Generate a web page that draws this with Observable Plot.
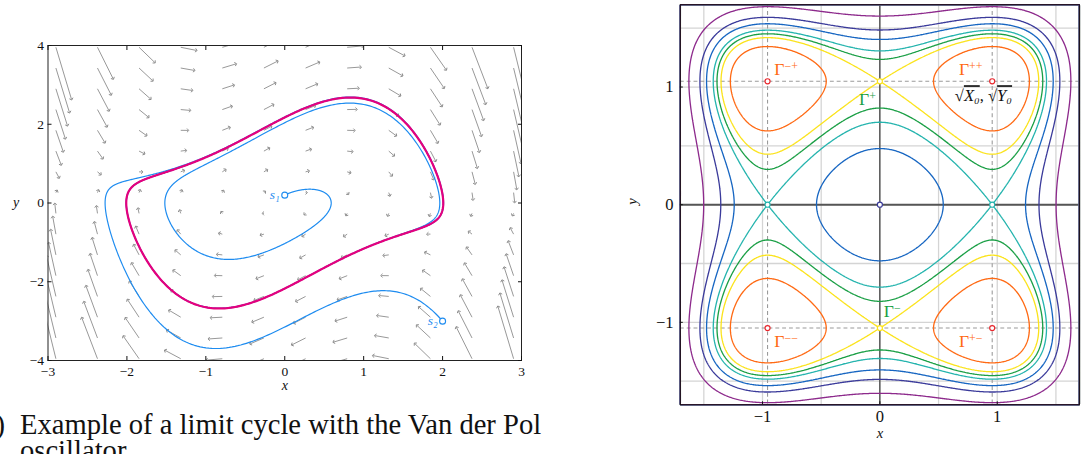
<!DOCTYPE html>
<html><head><meta charset="utf-8">
<script src="https://cdn.jsdelivr.net/npm/d3@7"></script>
<script src="https://cdn.jsdelivr.net/npm/@observablehq/plot@0.6"></script>
<style>
html,body{margin:0;padding:0;background:#fff;width:1087px;height:454px;overflow:hidden;position:relative;}
#left{position:absolute;left:0;top:0;}
#right{position:absolute;left:600px;top:0;}
#left svg [aria-label$="tick label"]{font-size:13.5px !important;}
#right svg [aria-label$="tick label"]{font-size:17px !important;}
#cap{position:absolute;left:20px;top:412px;font-family:"Liberation Serif","DejaVu Serif",serif;font-size:28.6px;line-height:26px;width:570px;color:#111;white-space:normal;}
#cap .n{position:absolute;right:calc(100% + 15px);top:0;white-space:nowrap;}
</style></head><body>
<div id="left"></div><div id="right"></div>
<div id="cap"><span class="n">(a)</span>Example of a limit cycle with the Van der Pol oscillator.</div>
<script>
// ---------- Left panel: Van der Pol oscillator ----------
const vdpMu = [1];
const fieldX = [-2.9, -2.373, -1.846, -1.318, -0.791, -0.264, 0.264, 0.791, 1.318, 1.846, 2.373, 2.9];
const fieldY = [-3.955, -3.428, -2.9, -2.373, -1.846, -1.318, -0.791, -0.264, 0.264, 0.791, 1.318, 1.846, 2.373, 2.9, 3.428, 3.955];
const arrowScale = [0.05];
const startNames = ["s₁", "s₂"];
const startX = [0, 2];
const startY = [0.2, -3];
const startDuration = [30, 30];
const cycleSeed = [2, 0];
const xTicksL = [-3, -2, -1, 0, 1, 2, 3];
const yTicksL = [-4, -2, 0, 2, 4];

// ---------- Right panel: contour levels ----------
const X0 = [0.916];
const Y0 = [1.1];
const levels = [0.5, 0.839, 1.02, 1.21, 1.6, 2.06, 3.0];
const levelColors = ["#ff6a14", "#fbe31c", "#1a9f45", "#25b4ae", "#1766c2", "#3b3b9b", "#8d2a8c"];
const ticksR = [-1, 0, 1];
const gridR = [-1.5, -1, -0.5, 0, 0.5, 1, 1.5];
const critSX = [-1, 1, -1, 1, 0, 0, -1, 1, 0];
const critSY = [1, 1, -1, -1, 1, -1, 0, 0, 0];
const critColors = ["#e8262c", "#e8262c", "#e8262c", "#e8262c", "#fbe31c", "#fbe31c", "#25b4ae", "#25b4ae", "#3b3b9b"];
const labelBase = ["Γ", "Γ", "Γ", "Γ", "Γ", "Γ", "√X₀, √Y₀"];
const labelSup = ["−+", "++", "−−", "+−", "+", "−", ""];
const labelSX = [-1, 1, -1, 1, 0, 0, 1];
const labelSY = [1, 1, -1, -1, 1, -1, 1];

const labelDX = [7, -10, 7, -10, -4, 4, -9];
const labelDY = [-12, -12, 14, 14, 19, -17, 15];
const labelAnchor = ["start", "end", "start", "end", "end", "start", "middle"];
const labelColors = ["#ff6a14", "#ff6a14", "#ff6a14", "#ff6a14", "#1a9f45", "#1a9f45", "#111"];

const SERIF = '"Liberation Serif","DejaVu Serif",serif';

// ---- Van der Pol integration ----
function vdp(x, y, mu) { return [y, mu * (1 - x * x) * y - x]; }
function trajectory(x0, y0, T, mu, dt = 0.002) {
  let x = x0, y = y0; const pts = [{x, y}];
  const n = Math.round(T / dt);
  for (let i = 0; i < n; i++) {
    const [a1, b1] = vdp(x, y, mu);
    const [a2, b2] = vdp(x + dt / 2 * a1, y + dt / 2 * b1, mu);
    const [a3, b3] = vdp(x + dt / 2 * a2, y + dt / 2 * b2, mu);
    const [a4, b4] = vdp(x + dt * a3, y + dt * b3, mu);
    x += dt / 6 * (a1 + 2 * a2 + 2 * a3 + a4);
    y += dt / 6 * (b1 + 2 * b2 + 2 * b3 + b4);
    if (i % 5 === 4) pts.push({x, y});
  }
  return pts;
}
const mu = vdpMu[0];
const arrows = [];
for (const fx of fieldX) for (const fy of fieldY) {
  const [u, v] = vdp(fx, fy, mu);
  arrows.push({x1: fx, y1: fy, x2: fx + arrowScale[0] * u, y2: fy + arrowScale[0] * v});
}
const trajs = startX.map((sx, i) => trajectory(sx, startY[i], startDuration[i], mu));
const warm = trajectory(cycleSeed[0], cycleSeed[1], 40, mu);
const w = warm[warm.length - 1];
const cycle = trajectory(w.x, w.y, 6.8, mu);
const starts = startX.map((x, i) => ({x, y: startY[i], name: startNames[i]}));

const left = Plot.plot({
  width: 540, height: 400,
  marginLeft: 47.5, marginRight: 19, marginTop: 45, marginBottom: 40,
  style: {fontFamily: SERIF, fontSize: "13.5px", background: "transparent", color: "#111"},
  x: {domain: [-3, 3]},
  y: {domain: [-4, 4]},
  marks: [
    Plot.link(arrows, {x1: "x1", y1: "y1", x2: "x2", y2: "y2", stroke: "#7d7d7d", strokeWidth: 0.8, markerEnd: "arrow", clip: true}),
    ...trajs.map(t => Plot.line(t, {x: "x", y: "y", stroke: "#1e8cf0", strokeWidth: 1.2, clip: true})),
    Plot.line(cycle, {x: "x", y: "y", stroke: "#e5007d", strokeWidth: 2.2}),
    Plot.dot(starts, {x: "x", y: "y", r: 3, stroke: "#1e8cf0", fill: "white", strokeWidth: 1.1}),
    Plot.text(starts, {x: "x", y: "y", text: "name", dx: -5, textAnchor: "end", fill: "#1e8cf0", fontStyle: "italic", fontSize: 13.5}),
    Plot.frame({stroke: "#222", strokeWidth: 1}),
    Plot.axisX(xTicksL, {anchor: "bottom", tickSize: 0, tickPadding: 6, label: null, fontSize: 13.5}),
    Plot.axisX(xTicksL, {anchor: "bottom", tickSize: -4, tickFormat: () => "", label: null}),
    Plot.axisX(xTicksL, {anchor: "top", tickSize: -4, tickFormat: () => "", label: null}),
    Plot.axisY(yTicksL, {anchor: "left", tickSize: 0, tickPadding: 4, label: null, fontSize: 13.5}),
    Plot.axisY(yTicksL, {anchor: "left", tickSize: -4, tickFormat: () => "", label: null}),
    Plot.axisY(yTicksL, {anchor: "right", tickSize: -4, tickFormat: () => "", label: null}),
    Plot.text(["y"], {frameAnchor: "left", dx: -35, fontStyle: "italic", fontSize: 14}),
    Plot.text(["x"], {frameAnchor: "bottom", dy: 29, fontStyle: "italic", fontSize: 14})
  ]
});
document.getElementById("left").append(left);

// ---- Right panel ----
const a = X0[0], b = Y0[0];
const sa = Math.sqrt(a), sb = Math.sqrt(b);
const H = (x, y) => (x * x - a) ** 2 + (y * y - b) ** 2;
const crit = critSX.map((s, i) => ({x: s * sa, y: critSY[i] * sb, c: critColors[i]}));

const right = Plot.plot({
  width: 500, height: 454,
  marginLeft: 82, marginRight: 8.3, marginTop: 4.3, marginBottom: 39,
  style: {fontFamily: SERIF, fontSize: "16px", background: "transparent", color: "#111"},
  x: {domain: [-1.7, 1.7]},
  y: {domain: [-1.7, 1.7]},
  marks: [
    Plot.ruleX(gridR, {stroke: "#d4d4d4", strokeWidth: 1.3}),
    Plot.ruleY(gridR, {stroke: "#d4d4d4", strokeWidth: 1.3}),
    Plot.ruleX([-sa, sa], {stroke: "#9a9a9a", strokeWidth: 1.1, strokeDasharray: "4,3"}),
    Plot.ruleY([-sb, sb], {stroke: "#9a9a9a", strokeWidth: 1.1, strokeDasharray: "4,3"}),
    Plot.ruleY([0], {stroke: "#555", strokeWidth: 2}),
    Plot.ruleX([0], {stroke: "#111", strokeWidth: 1}),
    ...levels.map((lv, i) => Plot.contour({
      x1: -1.7, x2: 1.7, y1: -1.7, y2: 1.7, pixelSize: 1,
      value: H, thresholds: [lv], stroke: levelColors[i], fill: "none", strokeWidth: 1.35
    })),
    Plot.dot(crit, {x: "x", y: "y", r: 2.6, stroke: "c", fill: "white", strokeWidth: 1.2}),
    ...labelBase.map((t, i) => Plot.text([t + labelSup[i]], {
      x: labelSX[i] * sa, y: labelSY[i] * sb, dx: labelDX[i], dy: labelDY[i],
      textAnchor: labelAnchor[i], fill: labelColors[i], fontSize: 18
    })),
    Plot.frame({stroke: "#111", strokeWidth: 1}),
    Plot.axisX(ticksR, {anchor: "bottom", tickSize: 0, tickPadding: 6, label: null, fontSize: 17, tickFormat: "d"}),
    Plot.axisX(ticksR, {anchor: "bottom", tickSize: -3, tickFormat: () => "", label: null}),
    Plot.axisY(ticksR, {anchor: "left", tickSize: 0, tickPadding: 7, label: null, fontSize: 17, tickFormat: "d"}),
    Plot.axisY(ticksR, {anchor: "left", tickSize: -3, tickFormat: () => "", label: null}),
    Plot.text(["y"], {frameAnchor: "left", dx: -49, rotate: -90, fontStyle: "italic", fontSize: 15}),
    Plot.text(["x"], {frameAnchor: "bottom", dy: 34, fontStyle: "italic", fontSize: 15})
  ]
});
document.getElementById("right").append(right);

// typeset superscripts / overlines as real text with tspans
labelBase.forEach((base, i) => {
  const full = base + labelSup[i];
  d3.select(right).selectAll("text").filter(function () { return this.textContent === full; }).each(function () {
    const el = d3.select(this);
    el.text("");
    if (i < 6) {
      el.append("tspan").text(base);
      el.append("tspan").attr("dy", "-0.45em").style("font-size", "0.68em").text(labelSup[i]);
    } else {
      el.style("font-size", "17px");
      el.append("tspan").text("√");
      el.append("tspan").style("text-decoration", "overline").style("font-style", "italic").text("X₀");
      el.append("tspan").text(", √");
      el.append("tspan").style("text-decoration", "overline").style("font-style", "italic").text("Y₀");
    }
  });
});
</script>
</body></html>
